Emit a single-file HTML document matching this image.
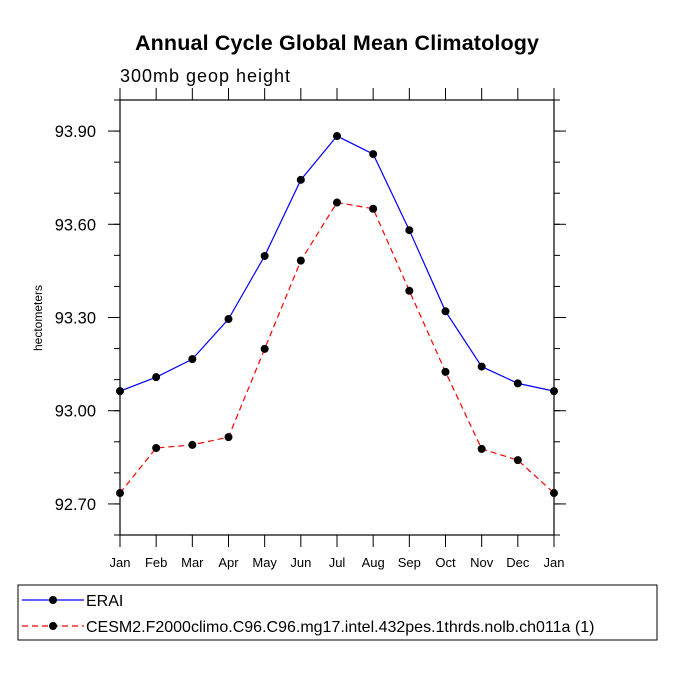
<!DOCTYPE html>
<html><head><meta charset="utf-8"><style>
body{margin:0;background:#fff;}
svg text{font-family:"Liberation Sans",Helvetica,sans-serif;}
</style></head><body>
<svg id="chart" width="675" height="675" viewBox="0 0 675 675">
<text x="337" y="50" text-anchor="middle" font-size="21.5" font-weight="bold" textLength="404">Annual Cycle Global Mean Climatology</text>
<text x="120" y="82" font-size="18" textLength="170">300mb geop height</text>
<text transform="translate(42,318) rotate(-90)" text-anchor="middle" font-size="12">hectometers</text>
<g id="axes"></g>
<g id="series"></g>
<rect x="18" y="585" width="639" height="55" fill="none" stroke="#000" stroke-width="1"/>
<g>
<line x1="22" y1="600" x2="84" y2="600" stroke="#00f" stroke-width="1.2"/>
<circle cx="53" cy="600" r="4" fill="#000"/>
<text x="86" y="606" font-size="16">ERAI</text>
</g>
<g>
<line x1="22" y1="626" x2="84" y2="626" stroke="#f00" stroke-width="1.2" stroke-dasharray="6,4"/>
<circle cx="53" cy="626" r="4" fill="#000"/>
<text x="86" y="632" font-size="16">CESM2.F2000climo.C96.C96.mg17.intel.432pes.1thrds.nolb.ch011a (1)</text>
</g>
</svg>
<script>
const months=["Jan","Feb","Mar","Apr","May","Jun","Jul","Aug","Sep","Oct","Nov","Dec","Jan"];
const eraiValues=[93.063,93.108,93.166,93.295,93.498,93.743,93.884,93.826,93.581,93.32,93.142,93.088,93.063];
const cesmValues=[92.735,92.88,92.89,92.915,93.199,93.483,93.67,93.65,93.386,93.125,92.877,92.841,92.735];
const yTicks=[92.70,93.00,93.30,93.60,93.90];
const yMin=92.6,yMax=94.0;
const L=120,R=554,T=100,B=535;
const NS="http://www.w3.org/2000/svg";
function xS(i){return L+(R-L)*i/(months.length-1);}
function yS(v){return B-(B-T)*(v-yMin)/(yMax-yMin);}
function mk(tag,attrs,parent){const e=document.createElementNS(NS,tag);for(const k in attrs)e.setAttribute(k,attrs[k]);parent.appendChild(e);return e;}
const ax=document.getElementById('axes');
const frame=mk('rect',{x:L,y:T,width:R-L,height:B-T,fill:'none',stroke:'#000','stroke-width':1.2},ax);


for(let i=0;i<months.length;i++){
  const x=xS(i);
  mk('line',{x1:x,y1:B,x2:x,y2:B+12,stroke:'#000'},ax);
  mk('line',{x1:x,y1:T,x2:x,y2:T-12,stroke:'#000'},ax);
  const t=mk('text',{x:x,y:B+32,'text-anchor':'middle','font-size':13},ax);
  t.textContent=months[i];
  
  
}
for(let v=92.6;v<=94.0001;v+=0.1){
  const y=yS(v);
  mk('line',{x1:L,y1:y,x2:L-6,y2:y,stroke:'#000'},ax);
  mk('line',{x1:R,y1:y,x2:R+6,y2:y,stroke:'#000'},ax);
}
yTicks.forEach(v=>{
  const y=yS(v);
  mk('line',{x1:L,y1:y,x2:L-12,y2:y,stroke:'#000'},ax);
  mk('line',{x1:R,y1:y,x2:R+12,y2:y,stroke:'#000'},ax);
  const t=mk('text',{x:L-24,y:y+6,'text-anchor':'end','font-size':16.5},ax);
  t.textContent=v.toFixed(2);
  
  
});
const sg=document.getElementById('series');
function drawSeries(vals,color,dash,name){
  const g=mk('g',{},sg);
  
  
  const pts=vals.map((v,i)=>xS(i)+','+yS(v)).join(' ');
  const pl=mk('polyline',{points:pts,fill:'none',stroke:color,'stroke-width':1.2},g);
  if(dash)pl.setAttribute('stroke-dasharray',dash);
  vals.forEach((v,i)=>{
    const c=mk('circle',{cx:xS(i),cy:yS(v),r:4,fill:'#000'},g);
    
    
  });
}
drawSeries(eraiValues,'#00f',null,'erai-series');
drawSeries(cesmValues,'#f00','6,4','cesm2-series');
</script>
</body></html>
